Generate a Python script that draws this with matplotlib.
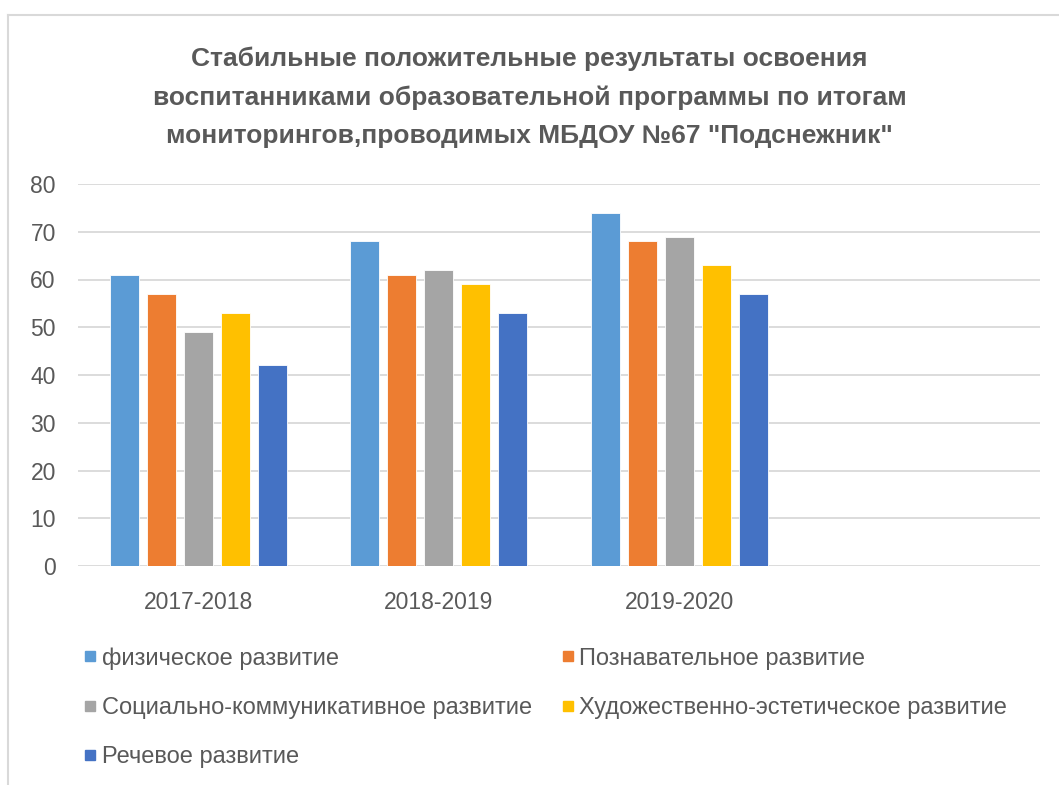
import matplotlib.pyplot as plt
import numpy as np
from matplotlib.lines import Line2D

plt.rcParams['font.family'] = ['Liberation Sans', 'DejaVu Sans']

years = ['2017-2018', '2018-2019', '2019-2020', '']
series_names = ['физическое развитие', 'Познавательное развитие',
                'Социально-коммуникативное развитие',
                'Художественно-эстетическое развитие', 'Речевое развитие']
fiz = [61, 68, 74]
pozn = [57, 61, 68]
soc = [49, 62, 69]
hud = [53, 59, 63]
rech = [42, 53, 57]
colors = ['#5B9BD5', '#ED7D31', '#A5A5A5', '#FFC000', '#4472C4']
txt = '#595959'

fig = plt.figure(figsize=(10.59, 7.85), dpi=100)
ax = fig.add_axes([78/1059, 1-566/785, (1040-78)/1059, (566-184)/785])

x = np.arange(len(years))
w = 0.12
step = 0.154
all_vals = [fiz, pozn, soc, hud, rech]
for i, vals in enumerate(all_vals):
    xs = np.arange(len(vals)) + (i - 2) * step
    ax.bar(xs, vals, width=w, color=colors[i], edgecolor='white', linewidth=0.6, zorder=3)

ax.set_xlim(-0.5, len(years) - 0.5)
ax.set_ylim(0, 80)
ax.set_yticks(range(0, 81, 10))
ax.set_xticks(x)
ax.set_xticklabels(years)
ax.yaxis.grid(True, color='#D9D9D9', linewidth=1.3, zorder=0)
for s in ax.spines.values():
    s.set_visible(False)
ax.tick_params(length=0, labelcolor=txt, labelsize=16.5)
ax.tick_params(axis='y', pad=16)
ax.tick_params(axis='x', pad=18)

fig.text(0.5, 1-97/785, 'Стабильные положительные результаты освоения\n'
         'воспитанниками образовательной программы по итогам\n'
         'мониторингов,проводимых МБДОУ №67 "Подснежник"',
         ha='center', va='center', fontsize=19, fontweight='bold', color=txt,
         linespacing=1.74)

# legend filled row by row like the original
order = [0, 2, 4, 1, 3]
handles = [Line2D([], [], marker='s', linestyle='', markersize=6.5, color=colors[i]) for i in order]
labels = [series_names[i] for i in order]
fig.legend(handles, labels, loc='upper left', bbox_to_anchor=(62/1059, 1-626/785),
           ncol=2, frameon=False, fontsize=17, labelcolor=txt, handletextpad=0.2,
           handlelength=0.6, columnspacing=1.2, labelspacing=1.15)

# outer frame
fig.add_artist(Line2D([8/1059, 8/1059], [0, 1-15/785], transform=fig.transFigure, color='#D9D9D9', lw=1.5))
fig.add_artist(Line2D([8/1059, 1], [1-15/785, 1-15/785], transform=fig.transFigure, color='#D9D9D9', lw=1.5))

fig.savefig('out.png', dpi=100)
